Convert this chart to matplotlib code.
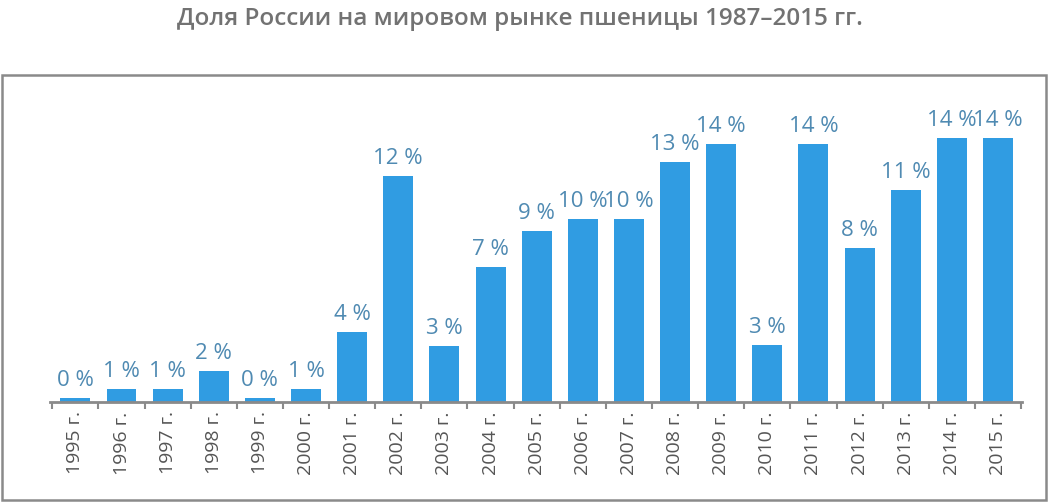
import matplotlib
matplotlib.use("Agg")
import matplotlib.pyplot as plt
from matplotlib.patches import Rectangle
import numpy as np

plt.rcParams['font.family'] = ['Open Sans', 'DejaVu Sans']

# data
years = ["1995 г.", "1996 г.", "1997 г.", "1998 г.", "1999 г.", "2000 г.", "2001 г.",
         "2002 г.", "2003 г.", "2004 г.", "2005 г.", "2006 г.", "2007 г.", "2008 г.",
         "2009 г.", "2010 г.", "2011 г.", "2012 г.", "2013 г.", "2014 г.", "2015 г."]
share = [0.22, 0.69, 0.69, 1.68, 0.22, 0.69, 3.8, 12.25, 3.02, 7.33, 9.27, 9.9, 9.9,
         13.0, 13.97, 3.08, 13.97, 8.36, 11.5, 14.3, 14.3]
share_labels = ["0 %", "1 %", "1 %", "2 %", "0 %", "1 %", "4 %", "12 %", "3 %", "7 %",
                "9 %", "10 %", "10 %", "13 %", "14 %", "3 %", "14 %", "8 %", "11 %",
                "14 %", "14 %"]

bar_color = "#309ce2"
label_color = "#4f8ab2"
grey = "#8a8a8a"

fig = plt.figure(figsize=(10.49, 5.04), dpi=100)

# outer frame around the plot area
fig.patches.append(Rectangle((2 / 1049, 1 - 500 / 504), 1044 / 1049, 425 / 504,
                             transform=fig.transFigure, fill=False,
                             edgecolor=grey, linewidth=1.8))

fig.text(520 / 1049, 1 - 19 / 504, "Доля России на мировом рынке пшеницы 1987–2015 гг.",
         ha="center", va="center", fontsize=17.5, fontweight="semibold", color="#727272")

ax = fig.add_axes([50 / 1049, (504 - 401.7) / 504, 972 / 1049, 276.3 / 504])
x = np.arange(len(years))
ax.bar(x, share, width=0.65, color=bar_color)

for xi, v, lab in zip(x, share, share_labels):
    ax.annotate(lab, (xi, v), xytext=(0, 5), textcoords="offset points",
                ha="center", va="bottom", fontsize=16, color=label_color)

ax.set_xlim(-0.55, len(years) - 0.48)
ax.set_ylim(0, 15)
ax.set_yticks([])
for s in ["top", "right", "left"]:
    ax.spines[s].set_visible(False)
ax.spines["bottom"].set_color(grey)
ax.spines["bottom"].set_linewidth(2)

ax.set_xticks(x)
ax.set_xticklabels(years, rotation=90, fontsize=14, color="#555555")
ax.tick_params(axis="x", which="major", length=0, pad=7)
ax.set_xticks(np.arange(-0.5, len(years)), minor=True)
ax.tick_params(axis="x", which="minor", length=5, width=1.5, color=grey, direction="out")

fig.savefig("out.png", dpi=100)
